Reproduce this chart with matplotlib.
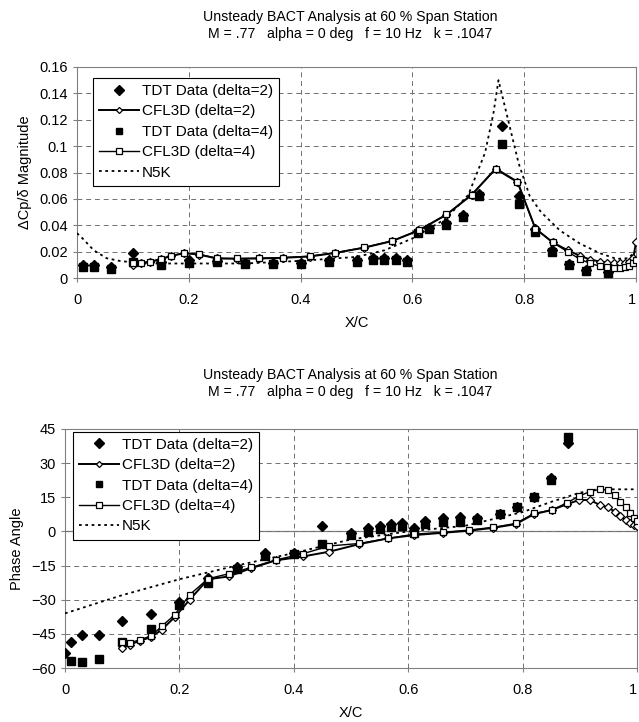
import numpy as np
import matplotlib
matplotlib.use("Agg")
import matplotlib.pyplot as plt
from matplotlib.ticker import FuncFormatter

plt.rcParams['font.family'] = ['Liberation Sans', 'DejaVu Sans']

# ---- magnitude data (top) ----
tdt_x_mag = [0.01, 0.03, 0.06, 0.10, 0.15, 0.20, 0.25, 0.30, 0.35, 0.40, 0.45, 0.50, 0.53, 0.55,
             0.57, 0.59, 0.61, 0.63, 0.66, 0.69, 0.72, 0.76, 0.79, 0.82, 0.85, 0.88, 0.91, 0.95]
tdt2_mag = [0.0098, 0.0098, 0.0080, 0.0190, 0.0125, 0.0140, 0.0130, 0.0112, 0.0115, 0.0115, 0.0135, 0.0140,
            0.0150, 0.0155, 0.0155, 0.0140, 0.0360, 0.0380, 0.0420, 0.0480, 0.0640, 0.1153, 0.0620, 0.0370,
            0.0210, 0.0105, 0.0060, 0.0045]
tdt4_mag = [0.0085, 0.0085, 0.0068, 0.0120, 0.0100, 0.0110, 0.0120, 0.0104, 0.0108, 0.0108, 0.0120, 0.0125,
            0.0135, 0.0140, 0.0140, 0.0125, 0.0340, 0.0370, 0.0405, 0.0460, 0.0620, 0.1017, 0.0560, 0.0350,
            0.0195, 0.0096, 0.0053, 0.0040]

cfl_x = [0.100, 0.114, 0.131, 0.150, 0.169, 0.192, 0.218, 0.250, 0.286, 0.326, 0.369, 0.416, 0.462,
         0.514, 0.564, 0.611, 0.661, 0.706, 0.749, 0.788, 0.820, 0.851, 0.878, 0.899, 0.918, 0.935,
         0.949, 0.961, 0.971, 0.980, 0.988, 0.995, 1.000]
cfl2_mag = [0.0098, 0.0112, 0.0122, 0.0142, 0.0168, 0.0188, 0.0178, 0.0148, 0.0146, 0.0148, 0.0153, 0.0163,
            0.0190, 0.0230, 0.0280, 0.0360, 0.0480, 0.0630, 0.0830, 0.0730, 0.0375, 0.0270, 0.0210,
            0.0170, 0.0140, 0.0125, 0.0115, 0.0110, 0.0110, 0.0115, 0.0125, 0.0150, 0.0270]
cfl4_mag = [0.0110, 0.0115, 0.0125, 0.0145, 0.0170, 0.0190, 0.0180, 0.0150, 0.0148, 0.0150, 0.0155, 0.0165,
            0.0192, 0.0232, 0.0282, 0.0362, 0.0482, 0.0632, 0.0825, 0.0725, 0.0375, 0.0270, 0.0198,
            0.0145, 0.0110, 0.0090, 0.0080, 0.0075, 0.0075, 0.0080, 0.0090, 0.0110, 0.0140]

n5k_x_mag = [0.0, 0.01, 0.03, 0.053, 0.077, 0.12, 0.2, 0.3, 0.4, 0.5, 0.55, 0.6, 0.66, 0.7, 0.73,
             0.745, 0.754, 0.77, 0.79, 0.81, 0.83, 0.864, 0.9, 0.936, 0.965, 0.985, 1.0]
n5k_mag = [0.034, 0.030, 0.021, 0.015, 0.0129, 0.011, 0.011, 0.011, 0.013, 0.016, 0.021, 0.030, 0.045,
           0.063, 0.095, 0.125, 0.150, 0.122, 0.087, 0.062, 0.050, 0.036, 0.026, 0.0187, 0.0145, 0.015, 0.020]

# ---- phase data (bottom) ----
tdt_x_ph = [0.0, 0.01, 0.03, 0.06, 0.10, 0.15, 0.20, 0.25, 0.30, 0.35, 0.40, 0.45, 0.50, 0.53, 0.55,
            0.57, 0.59, 0.61, 0.63, 0.66, 0.69, 0.72, 0.76, 0.79, 0.82, 0.85, 0.88]
tdt2_ph = [-53.4, -48.6, -45.4, -45.4, -39.2, -36.3, -31.2, -20.5, -15.8, -9.5, -9.5, 2.4, -0.8, 1.3,
           2.4, 3.4, 3.8, 1.6, 4.5, 6.0, 6.5, 5.8, 7.5, 10.8, 15.2, 23.3, 39.0]
tdt4_ph = [np.nan, -56.8, -57.4, -56.0, -48.7, -42.9, -32.2, -22.7, -16.6, -11.0, -9.8, -5.5, -1.6, -0.2,
           1.0, 1.8, 2.2, -0.8, 3.2, 4.2, 4.2, 5.0, 7.5, 10.8, 15.2, 22.6, 41.3]

cfl2_ph = [-51.2, -49.7, -48.0, -46.5, -43.2, -37.6, -30.0, -21.0, -19.8, -16.1, -12.7, -11.0, -8.9,
           -5.6, -3.1, -1.6, -0.6, 0.3, 1.6, 3.2, 7.6, 9.4, 12.0, 13.8, 13.8, 11.6, 10.6, 8.7, 6.8,
           5.0, 3.5, 2.8, 2.3]
cfl4_ph = [-48.6, -49.0, -47.5, -46.0, -41.7, -36.6, -27.8, -20.8, -18.6, -15.8, -12.5, -9.8, -6.4,
           -5.3, -3.1, -1.2, -0.4, 0.6, 1.8, 3.5, 7.9, 9.4, 12.6, 15.6, 17.5, 18.5, 18.2, 16.0, 13.0,
           10.6, 8.0, 5.8, 4.4]

n5k_x_ph = [0.0, 0.1, 0.2, 0.3, 0.4, 0.45, 0.5, 0.6, 0.7, 0.8, 0.85, 0.9, 0.93, 1.0]
n5k_ph = [-36.0, -28.0, -21.0, -15.0, -9.5, -6.5, -3.5, 0.0, 2.5, 8.5, 13.0, 17.0, 18.5, 18.5]

title1 = "Unsteady BACT Analysis at 60 % Span Station"
title2 = "M = .77   alpha = 0 deg   f = 10 Hz   k = .1047"
labels = ["TDT Data (delta=2)", "CFL3D (delta=2)", "TDT Data (delta=4)", "CFL3D (delta=4)", "N5K"]

fig = plt.figure(figsize=(6.39, 7.22), dpi=100)
W, H = 639.0, 722.0
ax1 = fig.add_axes([77 / W, 1 - 278 / H, 559 / W, 211 / H])
ax2 = fig.add_axes([65 / W, 1 - 668 / H, 572 / W, 239 / H])


def draw(ax, tx, t2, t4, c2, c4, nx, ny):
    h1, = ax.plot(tx, t2, ls='none', marker='D', ms=5.5, color='black', zorder=4)
    h2, = ax.plot(cfl_x, c2, '-', lw=1.4, color='black', marker='D', ms=3.6,
                  mfc='white', mec='black', mew=0.9, zorder=5)
    h3, = ax.plot(tx, t4, ls='none', marker='s', ms=5.5, color='black', zorder=4)
    h4, = ax.plot(cfl_x, c4, '-', lw=1.0, color='black', marker='s', ms=4.5,
                  mfc='white', mec='black', mew=0.9, zorder=5)
    h5, = ax.plot(nx, ny, ls=(0, (1.5, 2.0)), lw=1.3, color='black', zorder=3)
    ax.set_xlim(0, 1)
    ax.set_xticks([0, 0.2, 0.4, 0.6, 0.8, 1.0])
    ax.xaxis.set_major_formatter(FuncFormatter(lambda v, p: '%g' % round(v, 3)))
    ax.grid(True, ls=(0, (5, 4)), color='#707070', lw=0.7)
    for s in ax.spines.values():
        s.set_color('#808080')
    ax.tick_params(axis='both', labelsize=10.5, length=3, color='#808080')
    ax.tick_params(axis='x', pad=8)
    ax.set_xlabel('X/C', fontsize=10.5, labelpad=6)
    leg = ax.legend([h1, h2, h3, h4, h5], labels, loc='upper left', fontsize=11,
                    frameon=True, fancybox=False, edgecolor='black', framealpha=1,
                    handlelength=2.6, handletextpad=0.2, borderpad=0.4,
                    labelspacing=0.42, borderaxespad=0, markerscale=0.85)
    leg.get_frame().set_linewidth(0.8)
    # keep the last x label ("1") inside the figure edge
    fig.canvas.draw()
    ax.get_xticklabels()[-1].set_horizontalalignment('right')
    return leg


leg1 = draw(ax1, tdt_x_mag, tdt2_mag, tdt4_mag, cfl2_mag, cfl4_mag, n5k_x_mag, n5k_mag)
leg1.set_bbox_to_anchor((0.029, 0.948), transform=ax1.transAxes)
ax1.set_ylim(0, 0.16)
ax1.set_yticks(np.arange(0, 0.161, 0.02))
ax1.yaxis.set_major_formatter(FuncFormatter(lambda v, p: '%g' % round(v, 3)))
ax1.set_ylabel('ΔCp/δ Magnitude', fontsize=10.5, labelpad=5)

leg2 = draw(ax2, tdt_x_ph, tdt2_ph, tdt4_ph, cfl2_ph, cfl4_ph, n5k_x_ph, n5k_ph)
leg2.set_bbox_to_anchor((0.0135, 0.989), transform=ax2.transAxes)
ax2.axhline(0, color='#808080', lw=0.9, zorder=1)
ax2.set_ylim(-60, 45)
ax2.set_yticks(np.arange(-60, 46, 15))
ax2.set_ylabel('Phase Angle', fontsize=10.5, labelpad=5)

cx = 350 / W
fig.text(cx, 1 - 17 / H, title1, ha='center', va='center', fontsize=10.2)
fig.text(cx, 1 - 34 / H, title2, ha='center', va='center', fontsize=10.2)
fig.text(cx, 1 - 375 / H, title1, ha='center', va='center', fontsize=10.2)
fig.text(cx, 1 - 392 / H, title2, ha='center', va='center', fontsize=10.2)

fig.savefig('out.png', dpi=100)
